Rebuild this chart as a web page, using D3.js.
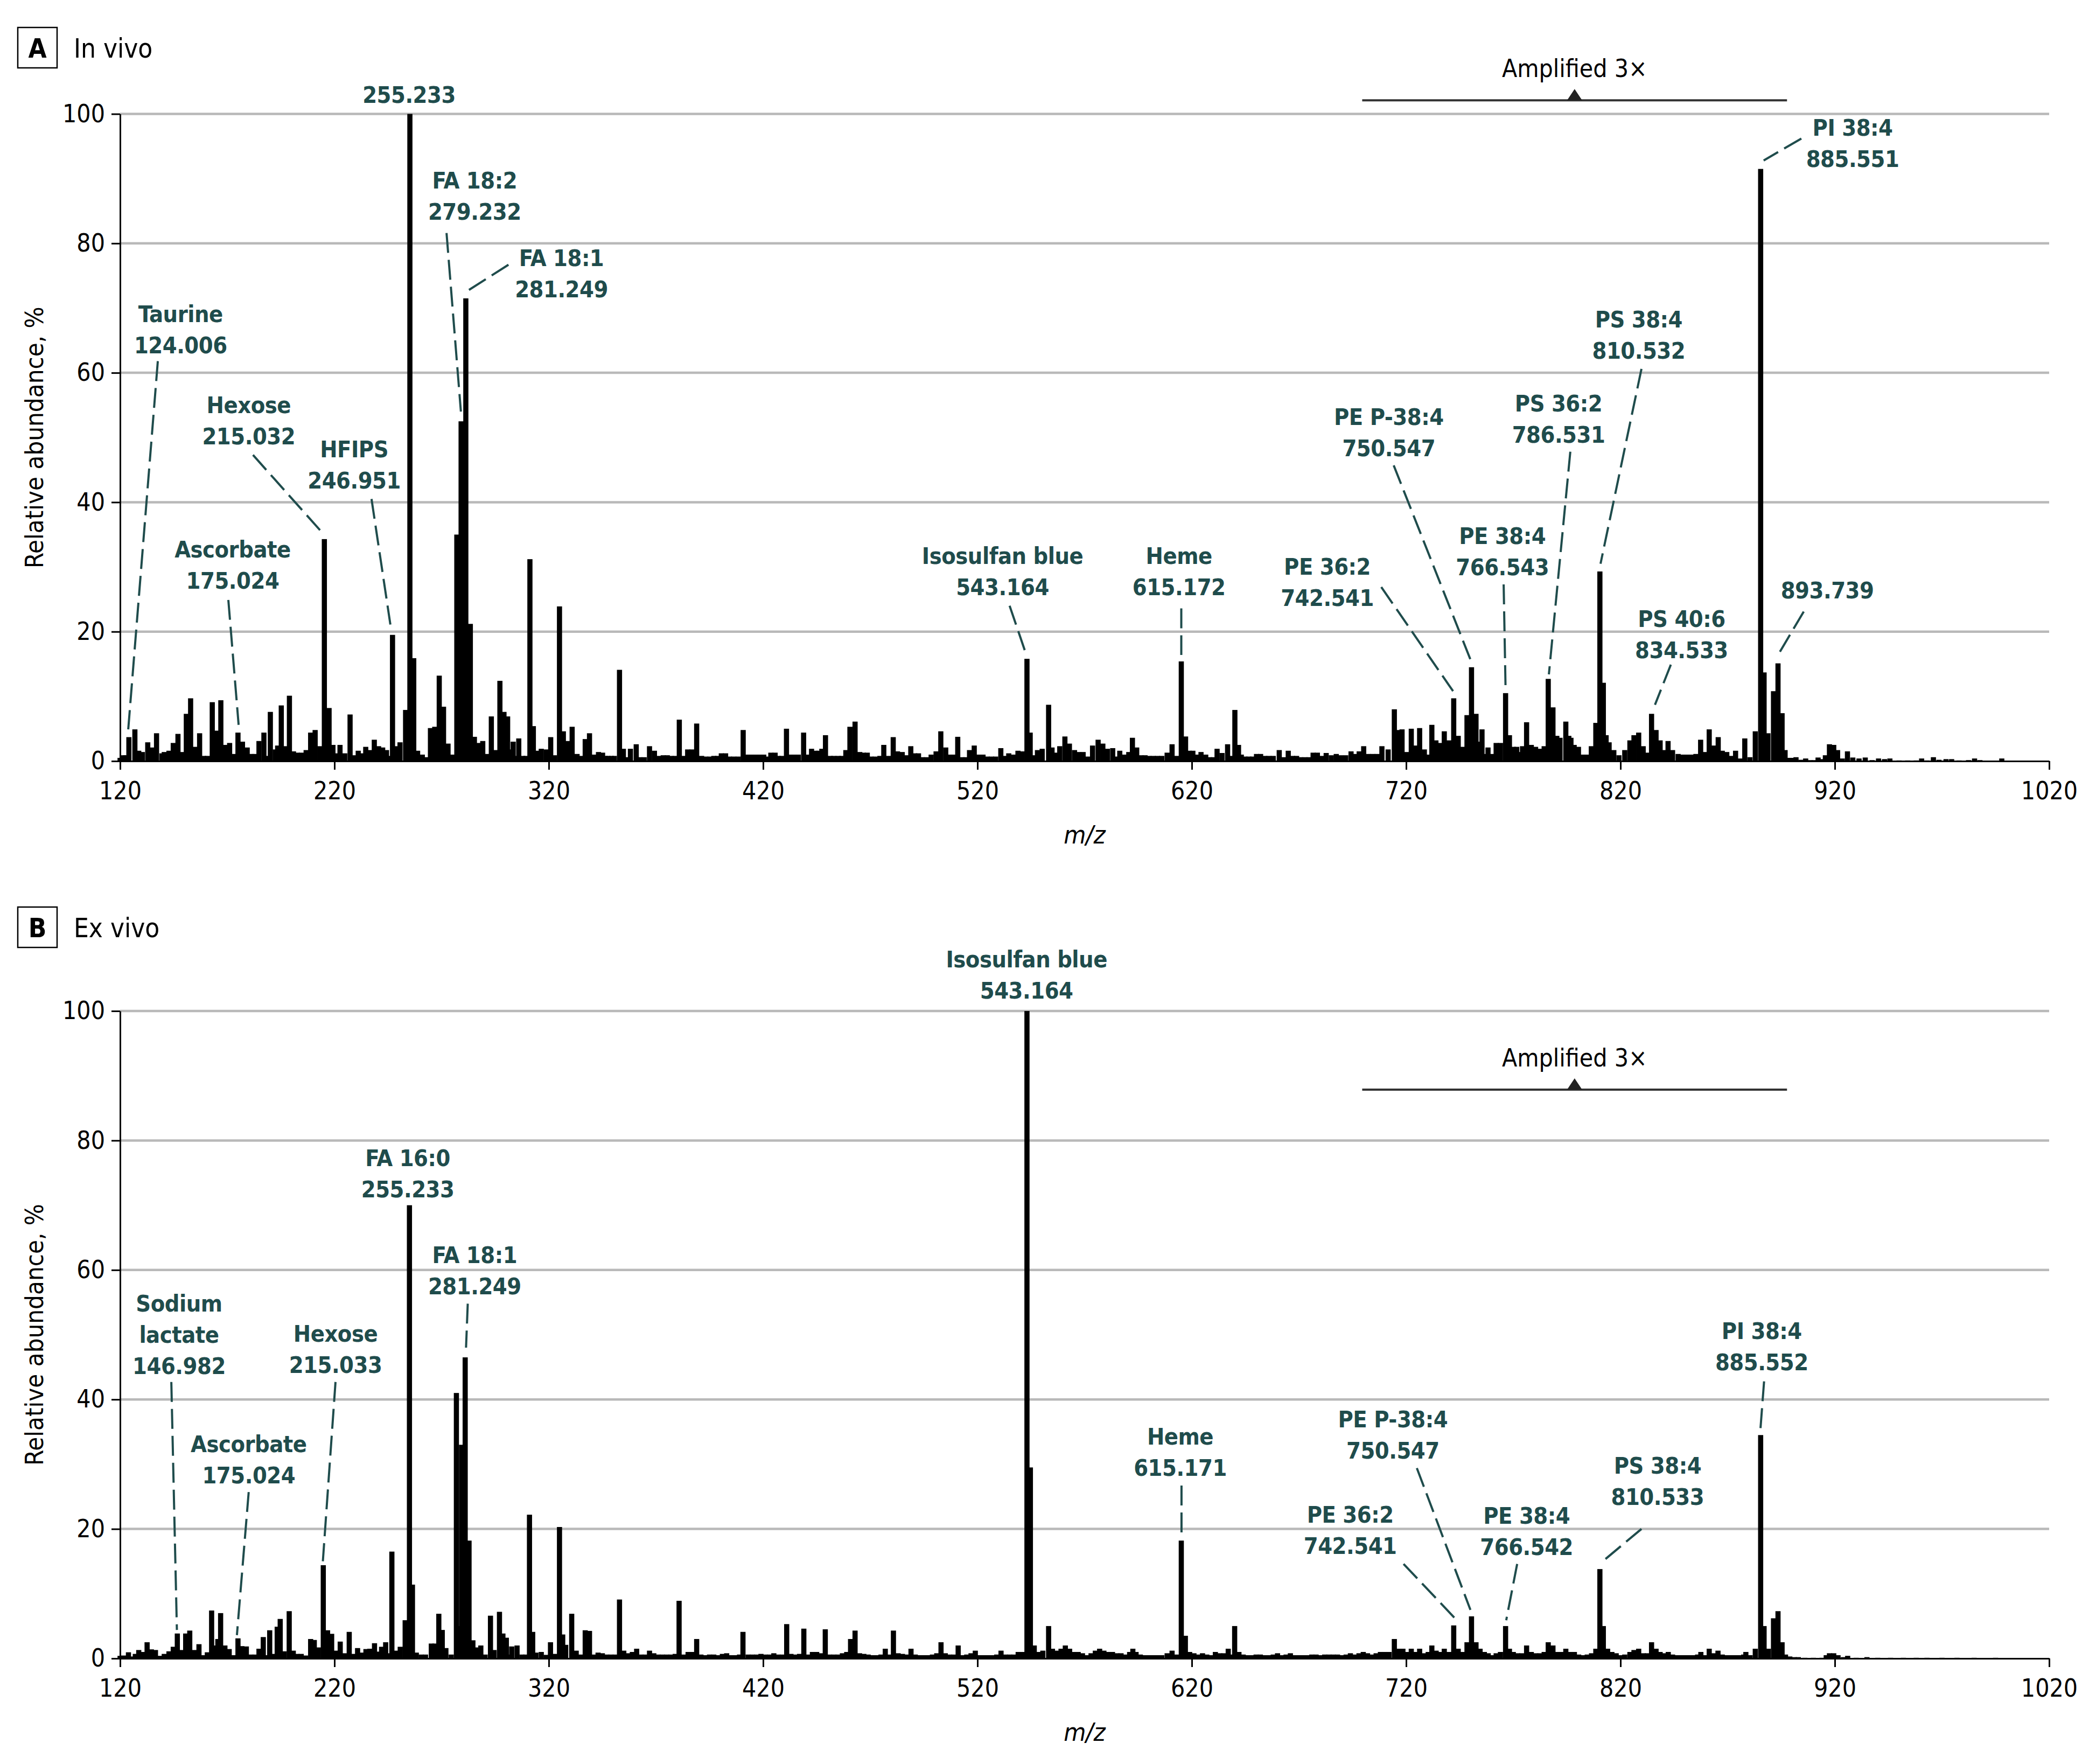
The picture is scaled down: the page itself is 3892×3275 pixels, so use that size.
<!DOCTYPE html>
<meta charset="utf-8">
<style>
body { margin: 0; background: #fff; }
text { font-family: "DejaVu Sans Condensed", "DejaVu Sans", sans-serif; }
.grid line { stroke: #b9b9b9; stroke-width: 4.5; }
.axis path, .axis line { stroke: #000; stroke-width: 3; }
.axis text { font-size: 46px; fill: #000; font-family: "DejaVu Sans Condensed", sans-serif; }
.bars rect { fill: #000; }
.note text { font-size: 43px; font-weight: bold; fill: #1f4c4c; text-anchor: middle; letter-spacing: -0.5px; }
.note line { stroke: #1f4c4c; stroke-width: 4; stroke-dasharray: 37 13; }
.amp text { font-size: 46px; fill: #000; text-anchor: middle; }
.amp line { stroke: #333; stroke-width: 4; }
.head text { font-size: 49px; fill: #000; }
</style>
<body>
<script src="https://d3js.org/d3.v7.min.js"></script>
<script>

var width = 3892
var height = 3275

// ---------- tick values ----------
var mzTicks = [120, 220, 320, 420, 520, 620, 720, 820, 920, 1020]
var pctTicks = [0, 20, 40, 60, 80, 100]

// ---------- spectra, [m/z, relative abundance %] ----------
var inVivo = [
[120,0.5],[121.6,0.9],[122.6,0.9],[124.1,3.7],[126.9,4.9],[128.7,1.6],[130.4,1.4],[132.9,2.9],[134.9,2.1],[137,4.3],
[139.5,1.2],[140.6,1.4],[142.8,1.6],[144.8,2.8],[147,4.2],[149,1.4],[150.9,7.3],[152.9,9.7],[154.9,2.2],[157.1,4.3],
[159,0.8],[160.8,0.8],[163,9.1],[165,4.7],[167,9.4],[169,2.5],[171.1,2.8],[173.1,1.1],[175,4.4],[177.1,3.0],
[179.3,2.1],[181,1.1],[183,1.1],[184.8,3.1],[187.1,4.4],[188.6,0.8],[190.1,7.6],[192.4,1.8],[193.5,2.4],[195.2,8.6],
[197.2,2.3],[199,10.1],[200.9,1.5],[202.6,1.3],[204.6,1.3],[206.8,1.7],[208.9,4.4],[211,4.8],[213.2,2.3],[215.3,34.3],
[217.5,8.2],[219.3,2.5],[221,1.2],[222.6,2.5],[224.8,1.2],[227.3,7.2],[229.3,0.9],[231.1,1.6],[232.9,1.2],[234.6,2.2],
[236.6,1.7],[238.6,3.3],[240.6,2.3],[242.5,2.1],[244.3,1.7],[245.6,0.8],[247.1,19.5],[249,2.3],[250.6,2.9],[253.2,7.9],
[255.2,100],[257,15.9],[258.8,1.6],[261,1.0],[262.8,0.6],[264.8,5.1],[266.8,5.3],[268.9,13.2],[270.9,8.4],[273,2.7],
[275.2,1.0],[277.1,35],[279.1,52.5],[281.3,71.5],[283.4,21.2],[285.3,3.75],[286.9,2.8],[289.2,3.1],[291.2,1.1],[293.2,6.9],
[295.1,1.7],[297.2,12.4],[299.1,7.6],[300.8,6.9],[302,1.8],[303.4,3.0],[304.8,0.8],[306,3.5],[307.8,0.8],[309.4,0.8],
[311.2,31.2],[312.8,5.4],[314.4,1.6],[316.5,1.9],[318.8,1.8],[320.9,3.7],[322.7,0.9],[325,23.9],[326.8,4.6],[328.6,3.1],
[330.9,5.3],[333.2,1.1],[335.2,0.8],[337,3.4],[339,4.3],[341.2,1.0],[343.2,1.4],
[345.1,1.3],[346.4,0.8],[347.7,0.8],[349.2,0.8],[350.6,0.8],[353,14.1],[354.8,1.9],[356.2,0.6],[358.1,1.9],[360.8,2.6],
[362.5,0.6],[364.5,0.6],[367,2.3],[369.3,1.6],[371.6,0.8],[373.4,0.9],[375.3,0.9],[377,0.8],[379,0.8],[380.9,6.4],
[382.9,0.8],[384.8,1.8],[386.8,1.8],[389,5.8],[391.3,0.8],[393.2,0.7],[395.2,0.7],[397,0.8],[398.8,0.8],[400.5,1.2],
[402.5,1.2],[404.3,0.7],[406.3,0.7],[408.4,0.7],[410.7,4.8],[412.4,1.0],[414.5,1.0],[416.5,1.0],[418.5,1.0],[420.3,1.0],
[421.8,0.7],[423.6,1.3],[425.6,1.3],[427,0.8],[428.8,0.8],[430.9,5.0],[432.6,1.0],[434.6,1.0],[436.4,1.0],[438.9,4.4],
[440.9,1.0],[442.6,1.9],[444.3,1.6],[446,1.6],[447.4,1.9],[449.1,4.0],[451.3,0.8],[453,0.8],[455,0.8],[456.8,0.8],
[458.6,1.7],[460.5,5.3],[462.9,6.1],[465.1,1.4],[466.8,1.3],[468.6,1.3],[470.3,0.7],[472.3,0.7],[474.5,0.8],[476.3,2.5],
[478.5,0.8],[480.7,3.7],[482.7,1.5],[484.9,1.4],[487,0.9],[488.9,2.3],[490.7,1.2],[492.5,1.2],[494.3,0.6],[496.2,0.6],
[498.4,1.0],[500.7,1.5],[502.9,4.6],[505.2,2.1],[507.1,1.0],[508.9,1.0],[510.8,3.75],[512.8,0.6],[514.6,0.6],[516.3,1.7],
[518.5,2.4],[520.6,1.0],[522.6,1.0],[524.5,0.7],[526.5,0.7],[528.5,0.7],[530.9,2.0],[532.8,0.8],[534.6,1.2],[536.8,1.0],
[538.9,1.6],[540.9,1.5],[543.1,15.8],[544.6,4.4],[546,0.9],[548,1.7],[550.2,1.9],[553.2,8.7],[554.8,2.1],[556.4,1.3],
[558.4,2.3],[560.8,3.8],[562.9,2.7],[565.3,1.7],[567.3,1.4],[569.3,1.4],
[571.3,0.7],[573.7,2.4],[576.3,3.3],[578.5,2.7],[580.6,1.9],[583.1,2.0],[585,0.7],[586.4,1.6],[588.6,1.0],[590.6,1.4],
[592.3,3.6],[594.3,2.1],[596.3,0.9],[598.2,0.9],[600,0.8],[602,0.8],[604,0.8],[606,0.8],[608.5,1.3],[610.8,2.6],
[612.9,0.8],[615.1,15.4],[617.1,3.8],[618.8,1.6],[620.5,1.6],[622.3,1.0],[624.3,1.4],[626.5,1.0],[628.3,0.6],[630.1,0.6],
[631.8,1.9],[634.1,1.25],[636.7,2.6],[638.4,0.8],[640.1,7.9],[641.8,2.5],[643.1,1.0],[644.8,0.7],[646.6,0.7],[648.4,0.7],
[650.2,1.1],[652.1,1.1],[654,0.8],[656,0.8],[658,0.8],[660.8,1.7],[662.8,0.6],[665,1.6],[667,0.8],[668.9,0.8],
[670.8,0.6],[672.8,0.6],[674.7,0.6],[676.6,1.3],[678.6,1.3],[680.9,0.8],[682.7,1.25],[685.1,0.9],[687.4,1.1],[689.5,0.9],
[691.8,0.9],[694.3,1.5],[696.3,1.1],[698.1,1.5],[700.2,2.3],[702.3,1.1],[704.4,1.1],[706.5,1.1],[708.7,2.3],[711.6,1.8],
[714.5,8.0],[716.1,4.8],[718.1,4.9],[720.4,1.4],[722.4,5.0],[724.3,2.4],[726.3,5.1],[728.5,1.8],[730.4,1.0],[732,5.6],
[733.9,3.2],[735.7,2.8],[737.8,4.6],[740,3.2],[742.2,9.7],[744.3,3.9],[746.4,2.2],[748.4,7.1],[750.5,14.5],[752.6,7.3],
[754.2,3.0],[755.4,4.9],[756.8,1.1],[758.2,2.1],[760.1,1.1],[762,2.8],[764,2.8],[766.4,10.5],[768.2,4.0],[770,2.2],
[771.6,2.2],[772.9,1.4],[774.3,2.3],[776.2,6.0],[778.4,2.5],[780.4,2.2],[782.6,1.9],[784.4,2.3],[786.3,12.7],[788.5,8.3],
[790.3,3.9],[791.8,3.6],[794.5,6.1],[795.9,3.9],
[796.9,3.6],[798.4,2.5],[800.4,2.2],[802.2,1.0],[804.2,1.0],[806.4,2.3],[808.5,5.9],[810.4,29.3],[812,12.1],[813.3,4.0],
[814.7,2.9],[816.9,1.7],[819.3,0.9],[822,1.7],[824.4,3.2],[826.3,4.0],[828.5,4.4],[830.6,2.3],[832.7,1.3],[834.5,7.3],
[836.6,4.8],[838.5,3.2],[840.3,1.7],[842.2,3.1],[844.3,1.7],[846.9,1.1],[849,1.0],[851,1.0],[853,1.0],[855.2,1.1],
[857.4,3.3],[859.3,1.4],[861.4,4.9],[863.3,2.4],[865.6,3.7],[867.5,1.6],[869.6,1.4],[871.8,0.8],[873.7,1.6],[875.9,0.4],
[878,3.5],[880.4,0.6],[882.9,4.6],[885.4,91.5],[887,13.7],[888.8,4.3],[891.4,10.8],[893.5,15.1],[895.4,7.4],[896.8,1.7],
[898.5,0.5],[900.2,0.5],[901.9,0.6],[904.2,0.2],[906.4,0.4],[908.4,0.15],[910.4,0.15],[912.2,0.55],[914,0.3],[915.6,0.9],
[917.5,2.6],[919.5,2.5],[921.3,1.7],[923.5,0.4],[925.9,1.5],[928.4,0.55],[931.3,0.4],[934.2,0.55],[937.4,0.15],[940.4,0.4],
[943.2,0.3],[945.7,0.4],[950,0.1],[954,0.1],[958,0.1],[960.5,0.4],[963,0.1],[966,0.6],[968.6,0.2],[971.9,0.3],
[974.5,0.3],[978,0.1],[982.4,0.15],[985.2,0.4],[987.7,0.15],[992,0.05],[997.9,0.4]
]

var exVivo = [
[120,0.4],[121.6,0.45],[123.9,0.95],[125.6,0.3],[127.1,0.7],[128.7,1.3],[130.5,1.0],[132.6,2.5],[134.6,1.4],[136.5,1.3],
[138.5,0.4],[140.6,0.7],[142.8,1.1],[144.8,1.8],[146.7,3.85],[148.7,1.3],[150.6,3.85],[152.5,4.3],[154.5,1.3],[156.8,2.2],
[158.8,0.5],[160.7,0.95],[162.7,7.4],[164.4,2.0],[165.6,3.0],[166.9,7.0],[168.9,2.0],[170.9,1.45],[172.9,0.5],[175,3.1],
[176.8,1.9],[178.9,1.85],[181,0.6],[183,0.6],[184.8,1.5],[186.8,3.3],[188.3,0.5],[189.8,4.35],[191.7,0.7],[193.3,4.9],
[194.7,6.1],[196.6,1.1],[198.9,7.3],[200.8,1.2],[202.5,0.7],[204.5,0.7],[206.5,0.45],[208.9,3.0],[210.6,2.85],[212.5,1.7],
[214.8,14.4],[216.8,4.35],[218.7,3.8],[220.7,1.2],[222.7,2.6],[224.7,0.8],[226.9,4.1],[228.8,0.7],[230.8,1.6],[232.8,0.9],
[234.7,1.45],[236.5,1.5],[238.7,2.35],[240.6,1.05],[242,1.8],[243.9,2.5],[245.5,0.8],[246.8,16.5],[248.7,1.2],[250.7,1.8],
[253,5.9],[255,70],[256.4,11.4],[258.2,0.9],[260.5,0.6],[262.5,0.6],[265.2,2.3],[266.9,2.3],[268.7,6.9],[270.3,4.4],
[272,1.6],[274.5,0.6],[276.9,41],[278,5],[279.3,33],[281,46.5],[282.8,18.2],[284.6,2.8],[286.4,1.7],[288.3,2.0],
[290.3,0.6],[292.8,6.6],[294.5,1.3],[297,7.2],[298.6,3.85],[300.2,3.2],[301.6,0.6],[302.7,1.85],[305.2,2.0],[307.5,0.6],
[309.2,0.6],[311,22.2],[312.5,4.1],[314,0.9],[316.5,1.0],[318.8,0.55],[320.8,2.5],[322.8,0.7],[325,20.3],[326.5,3.7],
[327.9,2.1],[330.7,6.9],[332.8,1.2],[334.9,0.6],[337,4.35],[339,4.25],[341.1,0.6],[343,0.9],
[345,0.8],[347,0.6],[349,0.6],[351,0.6],[353,9.1],[355,1.2],[357,0.8],[359,1.0],[361,1.5],[363,0.6],
[365,0.6],[367,1.2],[369,0.8],[371,0.6],[373,0.6],[375,0.6],[377,0.6],[379,0.7],[380.8,8.9],[383,0.6],
[385,1.0],[387,1.0],[389,3.0],[391,0.6],[393,0.5],[395,0.6],[397,0.6],[399,0.5],[401,0.7],[403,0.8],
[405,0.5],[407,0.5],[409,0.6],[410.6,4.1],[413,0.6],[415,0.6],[417,0.6],[419,0.7],[421,0.6],[423,0.6],
[425,0.8],[427,0.6],[429,0.6],[431,5.3],[433,0.7],[435,0.6],[437,0.7],[439,4.6],[441,0.6],[443,1.0],
[445,1.0],[447,0.8],[449,4.5],[451,0.6],[453,0.6],[455,0.6],[457,0.8],[459,1.0],[460.8,3.0],[462.9,4.3],
[465,0.8],[467,0.7],[469,0.6],[471,0.5],[473,0.5],[475,0.6],[477,1.5],[479,0.6],[480.8,4.3],[483,0.8],
[485,0.7],[487,0.6],[489,1.5],[491,0.6],[493,0.5],[495,0.5],[497,0.5],[499,0.6],[501,0.8],[503,2.5],
[505,0.8],[507,0.6],[509,0.6],[511,2.0],[513,0.5],[515,0.6],[517,0.8],[519,1.2],[521,0.5],[523,0.5],
[525,0.5],[527,0.5],[529,0.6],[531,1.2],[533,0.6],[535,0.6],[537,0.6],[539,1.0],[541,1.0],[543.1,100],
[544.7,29.5],[546.5,2],[548.5,1],[550.5,1.2],[553.2,5],[555,1.5],[557,1.2],[559,1.5],[561,2],[563,1.5],
[565,1],[567,1],[569,0.8],[571,0.5],[573,0.8],[575,1.2],[577,1.5],[579,1.2],[581,1],[583,1],
[585,0.8],[587,0.8],[589,0.6],[591,1.0],[592.5,1.5],[594,1],[596,0.6],[598,0.5],[600,0.5],[602,0.5],
[604,0.5],[606,0.5],[608.5,0.8],[610.8,1.2],[613,0.6],[615.1,18.2],[617,3.5],[619,1],[621,0.8],[623,0.6],
[625,0.8],[627,0.6],[629,0.5],[631,1],[633,0.8],[635,0.8],[637,1.5],[638.5,0.6],[640,5],[642,1],
[644,0.6],[646,0.5],[648,0.5],[650,0.6],[652,0.6],[654,0.5],[656,0.5],[658,0.6],[660,0.8],[662,0.5],
[664,0.6],[666,0.8],[668,0.5],[670,0.5],[672,0.5],[674,0.5],[676,0.6],[678,0.6],[680,0.5],[682,0.6],
[684,0.6],[686,0.6],[688,0.6],[690,0.5],[692,0.6],[694,0.8],[696,0.6],[698,0.8],[700,1.0],[702,0.8],
[704,0.6],[706,0.8],[708,1.0],[710,1.0],[712,1.0],[714.5,3.0],[716.5,1.5],[718.5,1.5],[720.5,1.0],[722.4,1.5],
[724.3,1.0],[726.3,1.5],[728.3,0.8],[730.3,1.0],[732,2.0],[734,1.2],[736,1.0],[737.8,1.5],[740,1.0],[742.2,5.1],
[744.3,1.5],[746.4,1.0],[748.4,2.5],[750.5,6.5],[752.6,2.5],[754.5,1.5],[756.5,1.0],[758.3,0.8],[760.2,0.5],[762,0.8],
[764,1.0],[766.4,5],[768.2,1.5],[770,1.0],[772,0.8],[774,0.8],[776.2,2.0],[778.4,1.0],[780.4,0.8],[782.5,0.8],
[784.4,1.0],[786.3,2.5],[788.5,2.0],[790.5,1.0],[792.5,1.0],[794.5,1.5],[796.5,1.0],[798.5,1.0],[800.5,0.6],[802.5,0.5],
[804.5,0.6],[806.5,0.8],[808.5,1.5],[810.4,13.8],[812,5],[814,1.5],[816,1.0],[818,0.8],[820,0.5],[822,0.6],
[824.4,1.0],[826.3,1.3],[828.5,1.5],[830.6,0.8],[832.6,0.8],[834.5,2.5],[836.6,1.5],[838.5,1.0],[840.5,0.8],[842.3,1.0],
[844.3,0.6],[846.3,0.5],[848.3,0.5],[850.3,0.5],[852.3,0.5],[854.3,0.5],[856,0.6],[857.5,1.0],[859.3,0.5],[861.4,1.5],
[863.3,0.8],[865.5,1.2],[867.5,0.6],[869.5,0.5],[871.5,0.5],[873.5,0.5],[875.5,0.5],[877.5,0.6],[878.5,1.0],[880.5,0.5],
[882.9,1.5],[885.4,34.5],[887,5],[889,1.5],[891.4,6.2],[893.5,7.3],[895.4,2.5],[897,0.6],[899,0.3],[901,0.2],
[903,0.2],[906,0.1],[910,0.1],[914,0.1],[916,0.5],[917.5,0.8],[919.5,0.8],[921.5,0.5],[924,0.2],[926,0.4],
[930,0.1],[935,0.2],[940,0.1],[946,0.1],[952,0.1],[958,0.1],[963,0.1],[970,0.1],[977,0.1],[985,0.1],
[995,0.1]
]

// ---------- peak annotations: text lines, text anchor [m/z, %], leader from/to [m/z, %] ----------
var notesA = [
  {lines: ['255.233'], at: [254.8, 101.7]},
  {lines: ['FA 18:2', '279.232'], at: [285.4, 88.5], from: [272.3, 81.6], to: [279, 54.0]},
  {lines: ['FA 18:1', '281.249'], at: [325.9, 76.5], from: [301.2, 76.7], to: [281.8, 72.6]},
  {lines: ['Taurine', '124.006'], at: [148.2, 67.8], from: [137.6, 61.8], to: [123.8, 4.9]},
  {lines: ['Hexose', '215.032'], at: [180, 53.8], from: [182, 47.3], to: [213.5, 35.6]},
  {lines: ['HFIPS', '246.951'], at: [229.2, 46.9], from: [237.3, 40.5], to: [246.1, 21.1]},
  {lines: ['Ascorbate', '175.024'], at: [172.5, 31.5], from: [170.5, 24.9], to: [175.3, 5.6]},
  {lines: ['Isosulfan blue', '543.164'], at: [531.7, 30.5], from: [535, 24.0], to: [542.4, 16.8]},
  {lines: ['Heme', '615.172'], at: [614, 30.5], from: [615.1, 23.6], to: [615.1, 16.4]},
  {lines: ['PE 36:2', '742.541'], at: [683.2, 28.8], from: [708.4, 26.9], to: [741.9, 10.8]},
  {lines: ['PE P-38:4', '750.547'], at: [711.9, 51.9], from: [714.2, 45.7], to: [750.1, 15.6]},
  {lines: ['PE 38:4', '766.543'], at: [764.9, 33.5], from: [765.5, 27.3], to: [766.4, 11.1]},
  {lines: ['PS 36:2', '786.531'], at: [791.1, 54.0], from: [796.6, 47.8], to: [786.6, 13.4]},
  {lines: ['PS 38:4', '810.532'], at: [828.5, 67.0], from: [829.8, 60.6], to: [810.7, 30.5]},
  {lines: ['PS 40:6', '834.533'], at: [848.5, 20.7], from: [843.5, 14.9], to: [836.1, 8.7]},
  {lines: ['893.739'], at: [916.5, 25.1], from: [905.5, 23.1], to: [894.4, 16.9]},
  {lines: ['PI 38:4', '885.551'], at: [928.3, 96.6], from: [904.4, 96.2], to: [886.8, 92.8]}
]

var notesB = [
  {lines: ['Isosulfan blue', '543.164'], at: [542.9, 106.7]},
  {lines: ['FA 16:0', '255.233'], at: [254.2, 76.0]},
  {lines: ['FA 18:1', '281.249'], at: [285.4, 61.1], from: [282.2, 54.8], to: [281.4, 48.0]},
  {lines: ['Sodium', 'lactate', '146.982'], at: [147.5, 53.6], from: [143.9, 42.7], to: [146.5, 4.4]},
  {lines: ['Ascorbate', '175.024'], at: [180, 31.9], from: [180, 25.7], to: [174.5, 3.6]},
  {lines: ['Hexose', '215.033'], at: [220.5, 48.9], from: [220.5, 42.7], to: [214.6, 15.0]},
  {lines: ['Heme', '615.171'], at: [614.6, 33.0], from: [615.2, 26.7], to: [615.2, 19.3]},
  {lines: ['PE 36:2', '742.541'], at: [693.9, 21.0], from: [718.8, 14.6], to: [742.5, 6.3]},
  {lines: ['PE P-38:4', '750.547'], at: [713.8, 35.7], from: [725, 29.4], to: [750, 7.5]},
  {lines: ['PE 38:4', '766.542'], at: [776.2, 20.8], from: [771.8, 14.6], to: [766.7, 5.9]},
  {lines: ['PS 38:4', '810.533'], at: [837.3, 28.5], from: [829.8, 20], to: [811, 14.8]},
  {lines: ['PI 38:4', '885.552'], at: [885.9, 49.3], from: [887, 42.8], to: [885.3, 35.4]}
]

var ampRange = [699.5, 897.7]

var panels = [
  {key: 'A', title: 'In vivo', data: inVivo, notes: notesA, y0: 1413, y100: 211.5, headY: 51, ampLine: 102.1, ampText: 105.7},
  {key: 'B', title: 'Ex vivo', data: exVivo, notes: notesB, y0: 3079, y100: 1877, headY: 1684, ampLine: 87.85, ampText: 91.4}
]

var svg = d3.select('body').append('svg')
    .attr('width', width)
    .attr('height', height)

var x = d3.scaleLinear().domain([120, 1020]).range([223, 3805])

panels.forEach(drawPanel)

function drawPanel(p) {
    var y = d3.scaleLinear().domain([0, 100]).range([p.y0, p.y100])
    var g = svg.append('g')

    // header box + title
    var head = g.append('g').attr('class', 'head')
    head.append('rect')
        .attr('x', 33).attr('y', p.headY)
        .attr('width', 73).attr('height', 75)
        .attr('fill', 'none').attr('stroke', '#000').attr('stroke-width', 2.5)
    head.append('text')
        .attr('x', 69.5).attr('y', p.headY + 56)
        .attr('text-anchor', 'middle').attr('font-weight', 'bold')
        .text(p.key)
    head.append('text')
        .attr('x', 137).attr('y', p.headY + 56)
        .text(p.title)

    // grid
    g.append('g').attr('class', 'grid')
      .selectAll('line')
      .data(pctTicks.filter(function (d) { return d > 0 }))
      .enter().append('line')
        .attr('x1', x.range()[0]).attr('x2', x.range()[1])
        .attr('y1', y).attr('y2', y)

    // sticks
    var half = 1.2
    g.append('g').attr('class', 'bars')
      .selectAll('rect')
      .data(p.data)
      .enter().append('rect')
        .attr('x', function (d) { return x(d[0] - half) })
        .attr('width', function (d) { return x(d[0] + half) - x(d[0] - half) })
        .attr('y', function (d) { return y(d[1]) })
        .attr('height', function (d) { return y(0) - y(d[1]) })

    // axes
    g.append('g').attr('class', 'axis')
        .attr('transform', 'translate(0,' + p.y0 + ')')
        .call(d3.axisBottom(x).tickValues(mzTicks).tickFormat(d3.format('d'))
            .tickSize(16).tickSizeOuter(0).tickPadding(22))
    g.append('g').attr('class', 'axis')
        .attr('transform', 'translate(' + x.range()[0] + ',0)')
        .call(d3.axisLeft(y).tickValues(pctTicks).tickSize(16).tickSizeOuter(0).tickPadding(12))

    g.append('text')
        .attr('transform', 'translate(80,' + ((p.y0 + p.y100) / 2) + ') rotate(-90)')
        .attr('text-anchor', 'middle')
        .attr('font-size', 47)
        .text('Relative abundance, %')

    g.append('text')
        .attr('x', (x.range()[0] + x.range()[1]) / 2)
        .attr('y', p.y0 + 153)
        .attr('text-anchor', 'middle')
        .attr('font-size', 47)
        .attr('font-style', 'italic')
        .text('m/z')

    // amplified marker
    var amp = g.append('g').attr('class', 'amp')
    var mid = (ampRange[0] + ampRange[1]) / 2
    amp.append('line')
        .attr('x1', x(ampRange[0])).attr('x2', x(ampRange[1]))
        .attr('y1', y(p.ampLine)).attr('y2', y(p.ampLine))
    amp.append('path')
        .attr('d', 'M' + (x(mid) - 14) + ',' + y(p.ampLine) + 'L' + x(mid) + ',' + (y(p.ampLine) - 21) +
                   'L' + (x(mid) + 14) + ',' + y(p.ampLine) + 'Z')
        .attr('fill', '#222')
    amp.append('text')
        .attr('x', x(mid)).attr('y', y(p.ampText))
        .text('Amplified 3\u00d7')

    // annotations
    var notes = g.append('g').attr('class', 'note')
      .selectAll('g')
      .data(p.notes)
      .enter().append('g')

    notes.filter(function (d) { return d.from })
      .append('line')
        .attr('x1', function (d) { return x(d.from[0]) })
        .attr('y1', function (d) { return y(d.from[1]) })
        .attr('x2', function (d) { return x(d.to[0]) })
        .attr('y2', function (d) { return y(d.to[1]) })

    notes.append('text')
        .attr('x', function (d) { return x(d.at[0]) })
        .attr('y', function (d) { return y(d.at[1]) })
      .selectAll('tspan')
      .data(function (d) { return d.lines })
      .enter().append('tspan')
        .attr('x', function () { return this.parentNode.getAttribute('x') })
        .attr('dy', function (d, i) { return i ? 58 : 0 })
        .text(function (d) { return d })
}

</script>
</body>
